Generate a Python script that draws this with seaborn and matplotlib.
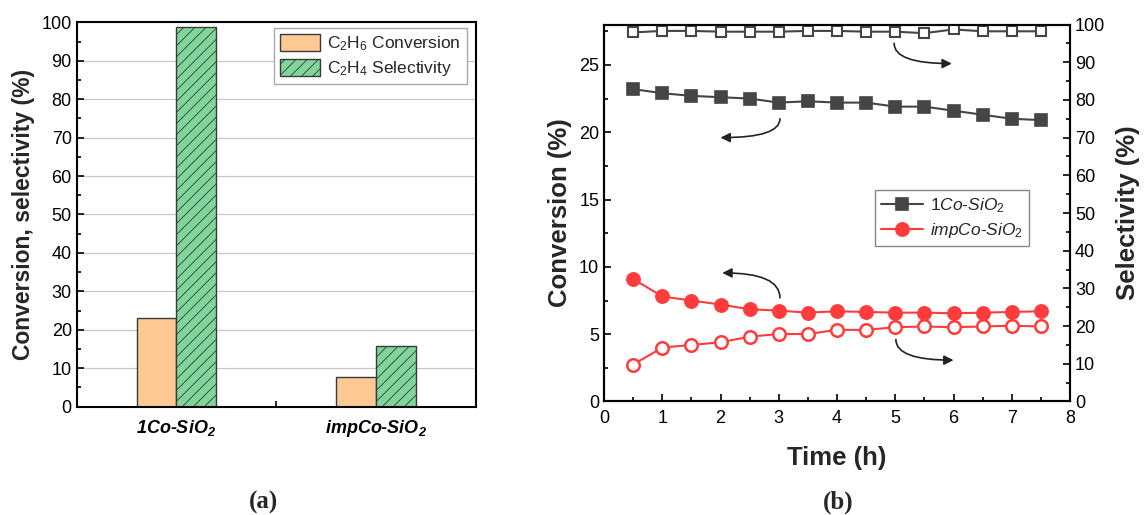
import matplotlib
matplotlib.use("Agg")
import matplotlib.pyplot as plt
from matplotlib.ticker import MultipleLocator, FixedLocator
import seaborn as sns
import pandas as pd

# ---- data -------------------------------------------------------------
catalysts = ["1Co-SiO2", "impCo-SiO2"]
catalyst_labels = [r"1Co-SiO$\mathbf{_2}$", r"impCo-SiO$\mathbf{_2}$"]
conversion_bar = [23.0, 7.6]
selectivity_bar = [98.7, 15.8]

time_h = [0.5, 1.0, 1.5, 2.0, 2.5, 3.0, 3.5, 4.0, 4.5, 5.0, 5.5, 6.0, 6.5, 7.0, 7.5]
conv_1co = [23.2, 22.9, 22.7, 22.6, 22.5, 22.2, 22.3, 22.2, 22.2, 21.9, 21.9, 21.6, 21.3, 21.0, 20.9]
sel_1co = [97.9, 98.3, 98.3, 98.1, 98.1, 98.1, 98.3, 98.3, 98.1, 98.1, 97.7, 98.7, 98.2, 98.2, 98.2]
conv_imp = [9.1, 7.8, 7.5, 7.2, 6.85, 6.75, 6.6, 6.7, 6.65, 6.6, 6.6, 6.55, 6.6, 6.65, 6.7]
sel_imp = [9.8, 14.3, 15.0, 15.7, 17.2, 17.9, 17.9, 19.0, 19.0, 19.7, 19.9, 19.7, 19.9, 20.1, 19.9]

# ---- style ------------------------------------------------------------
sns.set_style("white")
plt.rcParams["font.family"] = ["Liberation Sans", "DejaVu Sans"]
plt.rcParams["mathtext.fontset"] = "custom"
plt.rcParams["mathtext.rm"] = "Liberation Sans"
plt.rcParams["mathtext.it"] = "Liberation Sans:italic"
plt.rcParams["mathtext.bf"] = "Liberation Sans:bold:italic"
plt.rcParams["hatch.linewidth"] = 0.6
plt.rcParams["axes.linewidth"] = 1.5
plt.rcParams["axes.edgecolor"] = "black"

ORANGE = "#FFC993"
GREEN = "#80D69A"
DARK = "#454545"
RED = "#FF3B3B"
TICK_FS = 13
LABEL_FS = 18.5

fig = plt.figure(figsize=(11.46, 5.15), dpi=100)
ax_a = fig.add_axes([0.0669, 0.2103, 0.3482, 0.7464])
ax_b = fig.add_axes([0.5271, 0.2204, 0.4066, 0.7320])


def style_ticks(ax, **kw):
    ax.tick_params(which="both", direction="in", width=1.2, labelsize=TICK_FS,
                   colors="black", **kw)
    ax.tick_params(which="major", length=5)
    ax.tick_params(which="minor", length=2.8)


# ---- (a) bar chart ----------------------------------------------------
bar_df = pd.DataFrame({
    "catalyst": catalysts * 2,
    "metric": ["conv"] * 2 + ["sel"] * 2,
    "value": conversion_bar + selectivity_bar,
})
sns.barplot(data=bar_df, x="catalyst", y="value", hue="metric",
            palette=[ORANGE, GREEN], saturation=1, width=0.4, gap=0,
            edgecolor="#3a3a3a", linewidth=1.0, errorbar=None,
            legend=False, ax=ax_a, zorder=2)
for patch in ax_a.containers[1].patches:
    patch.set_hatch("///")

ax_a.set_xlim(-0.5, 1.5)
ax_a.set_ylim(0, 100)
ax_a.yaxis.set_major_locator(MultipleLocator(10))
ax_a.yaxis.set_minor_locator(MultipleLocator(5))
ax_a.xaxis.set_major_locator(FixedLocator([0, 1]))
ax_a.xaxis.set_minor_locator(FixedLocator([0.5]))
ax_a.set_xticklabels(catalyst_labels, fontweight="bold", style="italic")
style_ticks(ax_a, left=True, bottom=True, right=False, top=False)
ax_a.tick_params(axis="x", which="major", length=0, pad=8)
ax_a.tick_params(axis="x", which="minor", length=4)
ax_a.grid(axis="y", color="#c8c8c8", linewidth=0.9, zorder=0)
ax_a.set_axisbelow(True)
ax_a.set_xlabel("")
ax_a.set_ylabel("Conversion, selectivity (%)", fontsize=16.5,
                fontweight="bold", labelpad=5)

leg_a = ax_a.legend(
    handles=[ax_a.containers[0].patches[0], ax_a.containers[1].patches[0]],
    labels=[r"C$_2$H$_6$ Conversion", r"C$_2$H$_4$ Selectivity"],
    loc="upper right", bbox_to_anchor=(0.978, 0.985), fontsize=12.5,
    frameon=True, fancybox=False, edgecolor="#aaaaaa", framealpha=1,
    handlelength=2.3, handleheight=1.1, handletextpad=0.4,
    borderpad=0.35, labelspacing=0.35, borderaxespad=0)
leg_a.get_frame().set_linewidth(1.0)

# ---- (b) time-on-stream ----------------------------------------------
ax_b2 = ax_b.twinx()
ax_b2.set_position(ax_b.get_position())

line_kw = dict(linewidth=1.5, legend=False)
sns.lineplot(x=time_h, y=conv_1co, ax=ax_b, color=DARK, marker="s",
             markersize=8.5, markeredgecolor=DARK, markeredgewidth=1.2,
             label="1Co", **line_kw)
sns.lineplot(x=time_h, y=conv_imp, ax=ax_b, color=RED, marker="o",
             markersize=9.5, markeredgecolor=RED, markeredgewidth=1.2,
             label="imp", **line_kw)
sns.lineplot(x=time_h, y=sel_1co, ax=ax_b2, color=DARK, marker="s",
             markersize=7.5, markerfacecolor="white", markeredgecolor=DARK,
             markeredgewidth=1.5, **line_kw)
sns.lineplot(x=time_h, y=sel_imp, ax=ax_b2, color=RED, marker="o",
             markersize=9, markerfacecolor="white", markeredgecolor=RED,
             markeredgewidth=1.8, **line_kw)

ax_b.set_xlim(0, 8)
ax_b.set_ylim(0, 28)
ax_b2.set_ylim(0, 100)
ax_b.xaxis.set_major_locator(MultipleLocator(1))
ax_b.xaxis.set_minor_locator(MultipleLocator(0.5))
ax_b.yaxis.set_major_locator(MultipleLocator(5))
ax_b.yaxis.set_minor_locator(MultipleLocator(2.5))
ax_b2.yaxis.set_major_locator(MultipleLocator(10))
ax_b2.yaxis.set_minor_locator(MultipleLocator(5))
style_ticks(ax_b, left=True, bottom=True, right=False, top=False)
style_ticks(ax_b2, left=False, bottom=False, right=True, top=False)
ax_b.tick_params(axis="x", pad=6)
ax_b.grid(False)
ax_b2.grid(False)

ax_b.set_xlabel("Time (h)", fontsize=LABEL_FS, fontweight="bold", labelpad=14)
ax_b.set_ylabel("Conversion (%)", fontsize=LABEL_FS, fontweight="bold", labelpad=5)
ax_b2.set_ylabel("Selectivity (%)", fontsize=LABEL_FS, fontweight="bold", labelpad=8)

# curved arrows pointing to the axis each series belongs to
arrow_kw = dict(arrowstyle="-|>", color="#222222", lw=1.2, mutation_scale=14,
                shrinkA=0, shrinkB=0,
                connectionstyle="angle3,angleA=90,angleB=0")
for start, end in [((4.98, 26.6), (5.97, 25.1)),
                   ((3.02, 21.0), (2.0, 19.6)),
                   ((3.02, 7.7), (2.03, 9.55)),
                   ((5.01, 4.6), (6.0, 3.07))]:
    ax_b.annotate("", xy=end, xytext=start, arrowprops=arrow_kw)

conv_lines = ax_b.get_lines()[:2]
leg_b = ax_b2.legend(
    handles=conv_lines,
    labels=[r"$\mathit{1Co}$-$\mathit{SiO_2}$", r"$\mathit{impCo}$-$\mathit{SiO_2}$"],
    loc="upper left", bbox_to_anchor=(875 / 1146, 1 - 190 / 515),
    bbox_transform=fig.transFigure, fontsize=12.5, frameon=True,
    fancybox=False, edgecolor="#888888", framealpha=1, handlelength=2.4,
    handletextpad=0.4, borderpad=0.35, labelspacing=0.35, borderaxespad=0)
leg_b.get_frame().set_linewidth(1.0)

# panel captions
fig.text(263 / 1146, 1 - 502 / 515, "(a)", ha="center", va="center",
         fontsize=18, fontweight="bold", family=["Liberation Serif", "DejaVu Serif"])
fig.text(838 / 1146, 1 - 502 / 515, "(b)", ha="center", va="center",
         fontsize=18, fontweight="bold", family=["Liberation Serif", "DejaVu Serif"])

fig.savefig("out.png", dpi=100)
